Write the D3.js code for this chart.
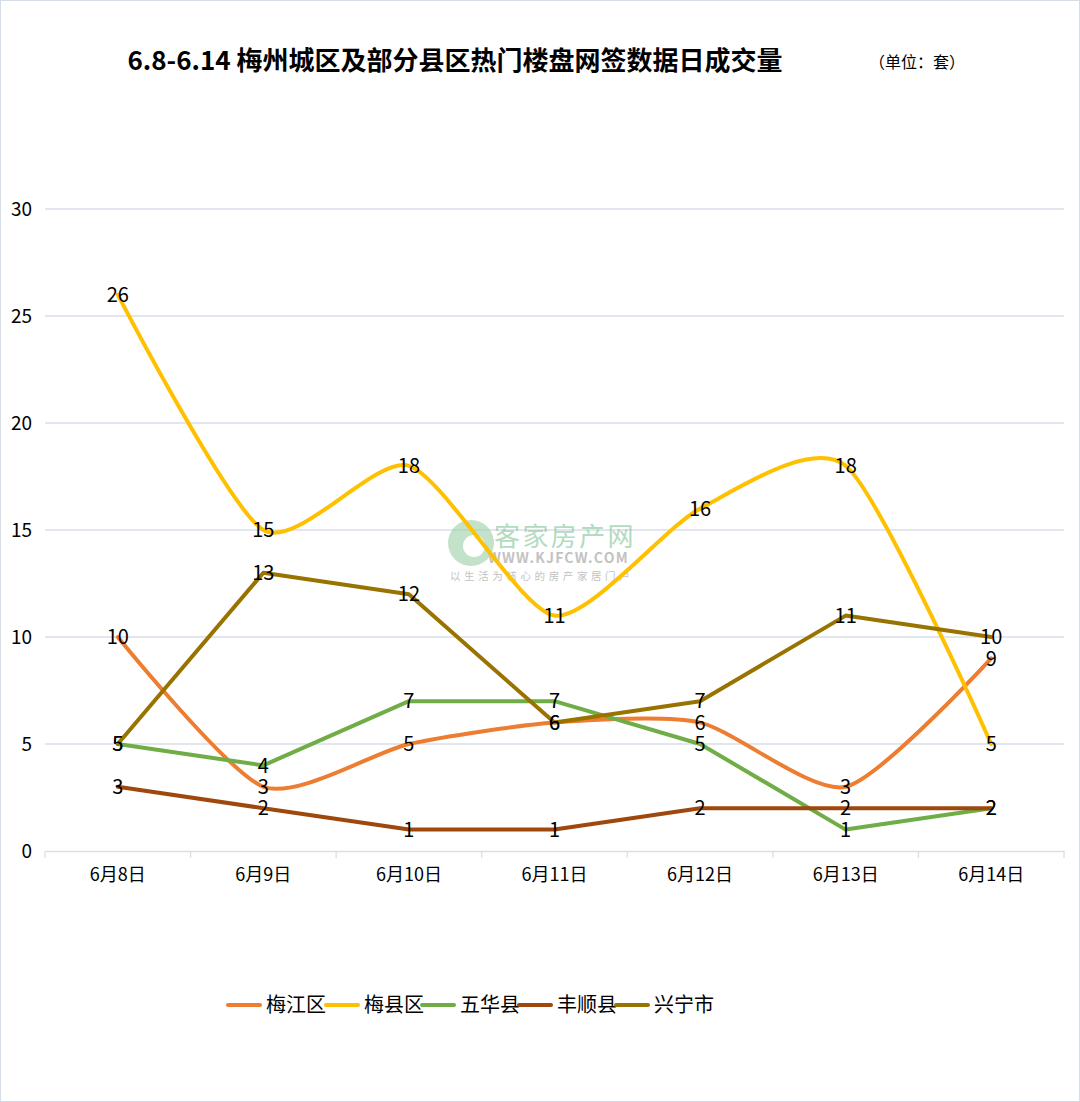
<!DOCTYPE html>
<html><head><meta charset="utf-8">
<script src="https://cdn.jsdelivr.net/npm/d3@7"></script>
<style>body{margin:0;background:#fff}svg{display:block}</style>
</head><body>
<script>
const categories = ["6月8日","6月9日","6月10日","6月11日","6月12日","6月13日","6月14日"];
const seriesNames = ["梅江区","梅县区","五华县","丰顺县","兴宁市"];
const meijiang = [10,3,5,6,6,3,9];
const meixian  = [26,15,18,11,16,18,5];
const wuhua    = [5,4,7,7,5,1,2];
const fengshun = [3,2,1,1,2,2,2];
const xingning = [5,13,12,6,7,11,10];
const yTicks = [0,5,10,15,20,25,30];
const colors = ["#ED7D31","#FFC000","#70AD47","#9E480E","#997300"];
const smooth = [true,true,false,false,false];
const values = [meijiang, meixian, wuhua, fengshun, xingning];

const W=1080,H=1102;
const svg=d3.select("body").append("svg").attr("width",W).attr("height",H);
svg.append("rect").attr("x",0.5).attr("y",0.5).attr("width",W-1).attr("height",H-1).attr("fill","#fff").attr("stroke","#D6DCE5");
const font="'Noto Sans CJK SC','Noto Sans',sans-serif";

svg.append("text").attr("x",455).attr("y",70).attr("text-anchor","middle").attr("font-family",font)
  .attr("font-weight","bold").attr("font-size",26).attr("fill","#000").text("6.8-6.14 梅州城区及部分县区热门楼盘网签数据日成交量");
svg.append("text").attr("x",917).attr("y",68).attr("text-anchor","middle").attr("font-family",font)
  .attr("font-size",16).attr("fill","#000").text("（单位：套）");

const x=d3.scaleBand().domain(categories).range([45,1064]);
const y=d3.scaleLinear().domain([0,30]).range([851,209]);

svg.append("g").selectAll("line").data(yTicks.filter(d=>d>0)).join("line")
  .attr("x1",45).attr("x2",1064).attr("y1",d=>y(d)).attr("y2",d=>y(d))
  .attr("stroke","#D9DEE8").attr("stroke-width",1.3);
const yAxis=svg.append("g").attr("transform","translate(32,0)")
  .call(d3.axisLeft(y).tickValues(yTicks).tickSize(0).tickPadding(0));
yAxis.select(".domain").remove();
yAxis.selectAll("text").attr("font-family",font).attr("font-size",19).attr("fill","#000");

const xAxis=svg.append("g").attr("transform","translate(0,851)")
  .call(d3.axisBottom(x).tickSize(0).tickPadding(17));
xAxis.select(".domain").attr("stroke","#D9DEE8").attr("stroke-width",1.3);
xAxis.selectAll("text").attr("font-family",font).attr("font-size",18).attr("fill","#000");
svg.append("g").selectAll("line").data(d3.range(categories.length+1)).join("line")
  .attr("x1",i=>45+i*x.step()).attr("x2",i=>45+i*x.step()).attr("y1",851).attr("y2",858)
  .attr("stroke","#D9DEE8").attr("stroke-width",1.3);

// watermark
const wm=svg.append("g").attr("opacity",0.6);
wm.append("circle").attr("cx",471).attr("cy",543).attr("r",23).attr("fill","#9CCFA8");
wm.append("circle").attr("cx",474).attr("cy",546).attr("r",11).attr("fill","#fff");
wm.append("text").attr("x",494).attr("y",546).attr("font-family",font).attr("font-size",26).attr("fill","#7FC496").attr("letter-spacing",2.4).text("客家房产网");
wm.append("text").attr("x",488).attr("y",563).attr("font-family",font).attr("font-weight","bold").attr("font-size",14).attr("fill","#9a9a9a").attr("letter-spacing",1.2).text("WWW.KJFCW.COM");
wm.append("text").attr("x",450).attr("y",580).attr("font-family",font).attr("font-size",10.5).attr("fill","#9a9a9a").attr("letter-spacing",3.6).text("以生活为核心的房产家居门户");

const cx=i=>x(categories[i])+x.bandwidth()/2;
values.forEach((vals,s)=>{
  const line=d3.line().x((d,i)=>cx(i)).y(d=>y(d)).curve(smooth[s]?d3.curveCardinal.tension(0.3):d3.curveLinear);
  svg.append("path").datum(vals).attr("d",line).attr("fill","none").attr("stroke",colors[s])
    .attr("stroke-width",4).attr("stroke-linejoin","round").attr("stroke-linecap","round");
});
values.forEach((vals,s)=>{
  svg.append("g").selectAll("text").data(vals).join("text")
    .attr("x",(d,i)=>cx(i)).attr("y",d=>y(d)).attr("dy","0.36em").attr("text-anchor","middle")
    .attr("font-family",font).attr("font-size",20).attr("fill","#000").text(d=>d);
});

// legend
const lg=svg.append("g");
const lx=[228,326,422,519,616];
seriesNames.forEach((n,i)=>{
  lg.append("line").attr("x1",lx[i]).attr("x2",lx[i]+32).attr("y1",1005).attr("y2",1005)
    .attr("stroke",colors[i]).attr("stroke-width",4).attr("stroke-linecap","round");
  lg.append("text").attr("x",lx[i]+38).attr("y",1005).attr("dy","0.36em").attr("font-family",font)
    .attr("font-size",20).attr("fill","#000").text(n);
});
</script>
</body></html>
